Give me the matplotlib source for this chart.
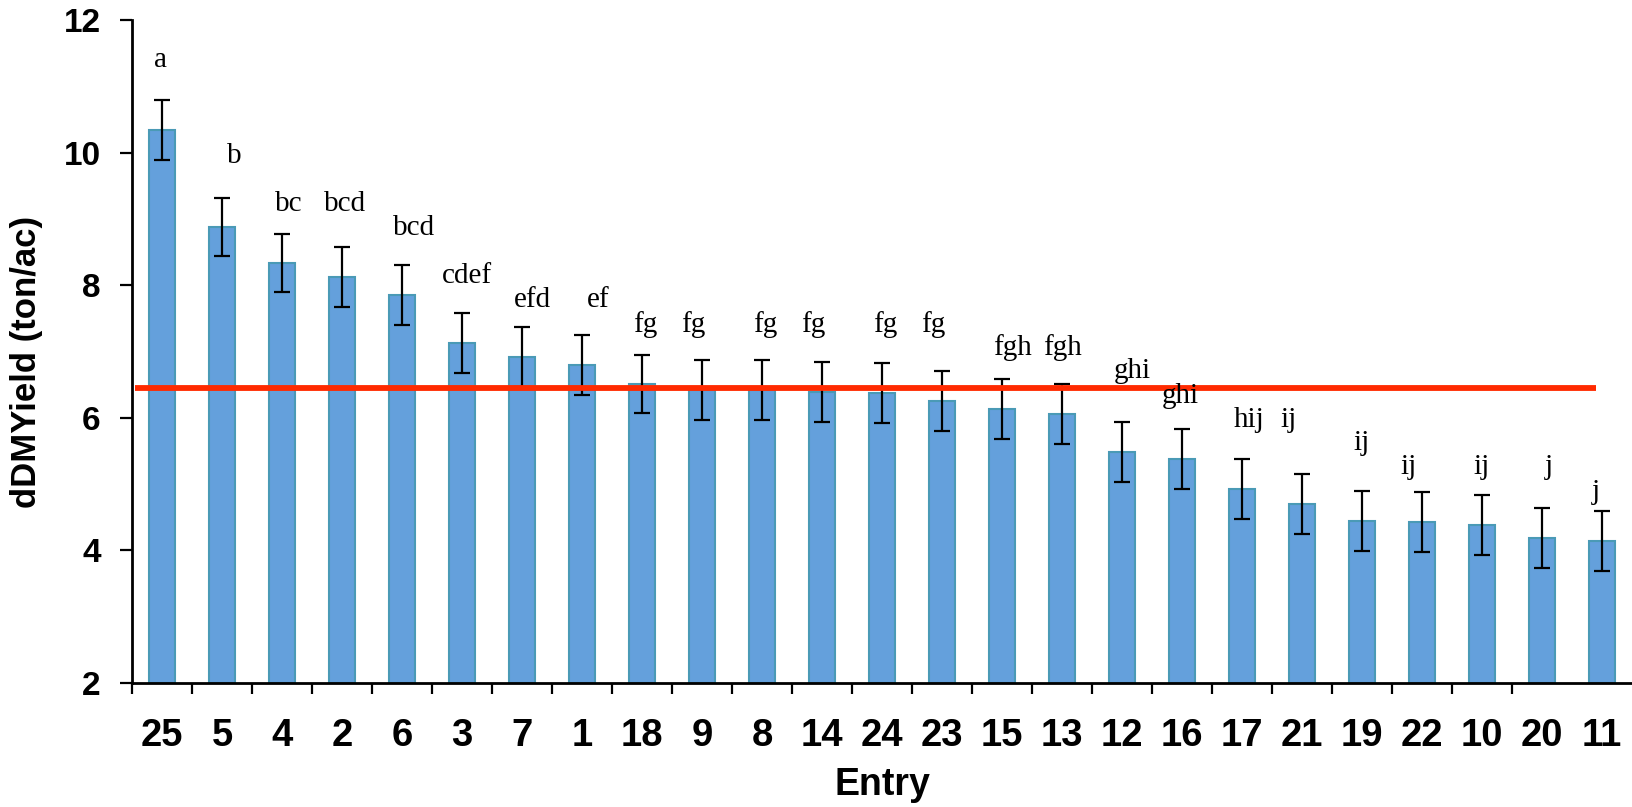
###################### imports ###########################
import matplotlib
matplotlib.use("Agg")
import matplotlib.pyplot as plt
import numpy as np


###################### data ###########################
entries = ["25", "5", "4", "2", "6", "3", "7", "1", "18", "9", "8", "14", "24",
           "23", "15", "13", "12", "16", "17", "21", "19", "22", "10", "20", "11"]

dmyield = [10.34, 8.88, 8.33, 8.12, 7.85, 7.13, 6.92, 6.80, 6.51, 6.42, 6.42, 6.39, 6.37,
           6.25, 6.13, 6.06, 5.48, 5.38, 4.93, 4.70, 4.44, 4.43, 4.38, 4.19, 4.14]

errors = [0.45, 0.44, 0.44, 0.45, 0.45, 0.45, 0.45, 0.45, 0.44, 0.45, 0.45, 0.45, 0.45,
          0.45, 0.45, 0.45, 0.45, 0.45, 0.45, 0.45, 0.45, 0.45, 0.45, 0.45, 0.45]

letters = ["a", "b", "bc", "bcd", "bcd", "cdef", "efd", "ef", "fg", "fg", "fg", "fg", "fg",
           "fg", "fgh", "fgh", "ghi", "ghi", "hij", "ij", "ij", "ij", "ij", "j", "j"]

mean_yield = 6.45

###################### layout of the letters ###########################
# (x shift in bar units, baseline height in data units)
letter_dx = [-0.02, 0.2, 0.12, 0.05, 0.2, 0.08, 0.18, 0.27, 0.05, -0.15, 0.05, -0.15, 0.05,
             -0.15, 0.18, 0.0, 0.18, -0.02, 0.12, -0.22, 0.0, -0.22, 0.0, 0.12, -0.1]
letter_y = [11.29, 9.84, 9.12, 9.12, 8.76, 8.03, 7.67, 7.67, 7.29, 7.29, 7.29, 7.29, 7.29,
            7.29, 6.95, 6.95, 6.60, 6.22, 5.86, 5.86, 5.51, 5.15, 5.15, 5.15, 4.78]


###################### plot ###########################
fig = plt.figure(figsize=(16.32, 8.07), dpi=100)
ax = fig.add_axes([132 / 1632, 1 - 683 / 807, 1500 / 1632, 663 / 807])

x = np.arange(len(entries))

ax.bar(x, np.array(dmyield) - 2, bottom=2, width=0.42, color="#64a0dc",
       edgecolor="#4a9ab6", linewidth=1.5, zorder=2)
ax.errorbar(x, dmyield, yerr=errors, fmt="none", ecolor="black", elinewidth=1.6,
            capsize=6, capthick=1.6, zorder=3)

# mean line
ax.plot([-0.45, 23.9], [mean_yield, mean_yield], color="#ff2a00", linewidth=4.2,
        solid_capstyle="butt", zorder=4)

for i, lab in enumerate(letters):
    ax.text(x[i] + letter_dx[i], letter_y[i], lab, ha="center", va="baseline",
            fontsize=21, family="Liberation Serif", zorder=5)

# axes
ax.set_xlim(-0.5, len(entries) - 0.5)
ax.set_ylim(2, 12)
ax.set_yticks([2, 4, 6, 8, 10, 12])
ax.set_yticklabels(["2", "4", "6", "8", "10", "12"], fontsize=24, fontweight="bold",
                   family="Liberation Sans")
ax.set_xticks(x)
ax.set_xticklabels(entries, fontsize=27.5, fontweight="bold", family="Liberation Sans")
ax.set_xticks(np.arange(len(entries) - 1) - 0.5, minor=True)

ax.tick_params(axis="x", which="major", length=0, pad=25)
ax.tick_params(axis="x", which="minor", length=8, width=1.6, direction="out")
ax.tick_params(axis="y", which="major", length=8.5, width=1.6, direction="out", pad=14)

for side in ["top", "right"]:
    ax.spines[side].set_visible(False)
for side in ["left", "bottom"]:
    ax.spines[side].set_linewidth(2)

ax.set_ylabel("dDMYield (ton/ac)", fontsize=25, fontweight="bold", family="Liberation Sans")
ax.yaxis.set_label_coords(-0.059, 0.485)
ax.set_xlabel("Entry", fontsize=27, fontweight="bold", family="Liberation Sans")
ax.xaxis.set_label_coords(0.5, -0.126)

fig.savefig("out.png", dpi=100)
